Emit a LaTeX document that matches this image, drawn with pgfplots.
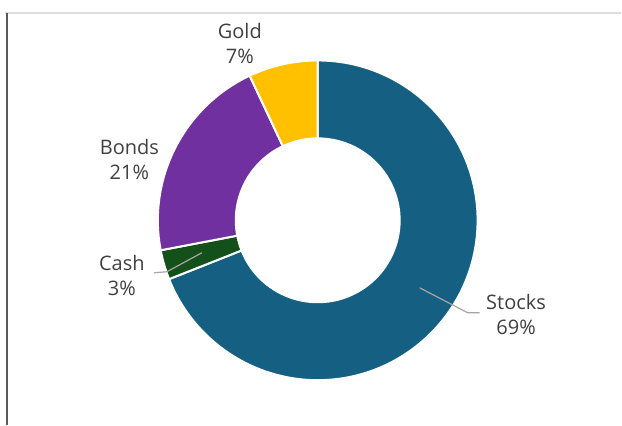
\documentclass[border=0pt]{standalone}
\usepackage{fontspec}
\setmainfont{Open Sans}
\usepackage{pgfplots}
\usepackage{pgfplotstable}
\pgfplotsset{compat=1.18}

\definecolor{c0}{HTML}{156082}
\definecolor{c1}{HTML}{14501A}
\definecolor{c2}{HTML}{7030A0}
\definecolor{c3}{HTML}{FFC000}
\definecolor{txt}{HTML}{404040}
\definecolor{leader}{HTML}{A6A6A6}

% share of each asset class, in %
\pgfplotstableread{
label  value
Stocks 69
Cash   3
Bonds  21
Gold   7
}\alloc

\begin{document}
\begin{tikzpicture}
\begin{axis}[
  x=0.75pt, y=0.75pt,
  xmin=0, xmax=622, ymin=0, ymax=425,
  hide axis, clip=false,
]
\fill[white] (axis cs:0,0) rectangle (axis cs:622,425);
\draw[gray!25, line width=0.8pt] (axis cs:5,412) -- (axis cs:622,412);
\draw[black!65, line width=1pt] (axis cs:7,412) -- (axis cs:7,0);

\def\cx{318}\def\cy{204.5}\def\Ro{160}\def\Ri{82}
\pgfmathsetmacro{\acc}{90}
\pgfplotsforeachungrouped \i in {0,...,3}{%
  \pgfplotstablegetelem{\i}{value}\of\alloc
  \pgfmathsetmacro{\aa}{\acc}%
  \pgfmathsetmacro{\ab}{\acc-3.6*\pgfplotsretval}%
  \pgfmathsetmacro{\xo}{\cx+\Ro*cos(\aa)}%
  \pgfmathsetmacro{\yo}{\cy+\Ro*sin(\aa)}%
  \pgfmathsetmacro{\xi}{\cx+\Ri*cos(\ab)}%
  \pgfmathsetmacro{\yi}{\cy+\Ri*sin(\ab)}%
  \edef\wedgecmd{\noexpand\fill[c\i, draw=white, line width=1.5pt]
    (axis cs:\xo,\yo) arc[start angle=\aa, end angle=\ab, radius=120pt]
    -- (axis cs:\xi,\yi) arc[start angle=\ab, end angle=\aa, radius=61.5pt] -- cycle;}%
  \wedgecmd
  \global\let\acc\ab
}

% leader lines
\draw[leader, line width=0.9pt] (axis cs:154,152) -- (axis cs:167,153) -- (axis cs:202,172);
\draw[leader, line width=0.9pt] (axis cs:420,137) -- (axis cs:468,112) -- (axis cs:480,112);

\tikzset{lbl/.style={text=txt, align=center, inner sep=0pt,
  font=\fontsize{15pt}{18.75pt}\selectfont}}
\node[lbl] at (axis cs:240,381) {Gold\\7\%};
\node[lbl] at (axis cs:129.5,265) {Bonds\\21\%};
\node[lbl] at (axis cs:122,149) {Cash\\3\%};
\node[lbl] at (axis cs:516.5,110) {Stocks\\69\%};
\end{axis}
\end{tikzpicture}
\end{document}
